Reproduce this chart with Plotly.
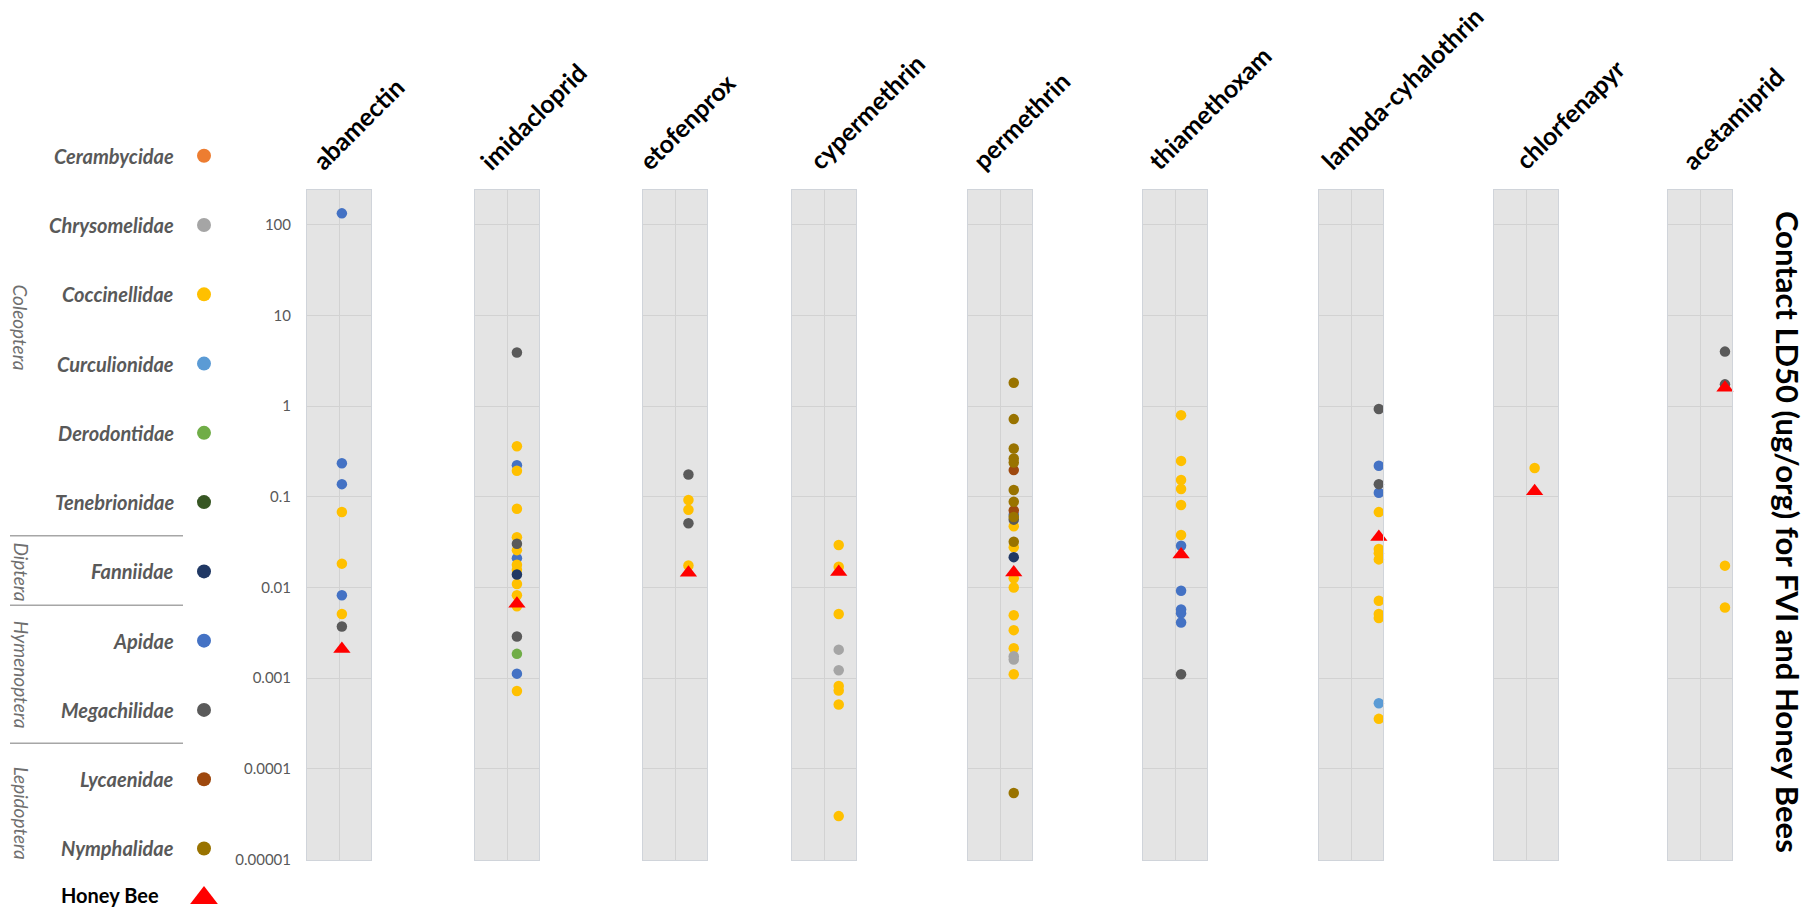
import plotly.graph_objects as go
import math

W, H = 1808, 914

# ---------------- data ----------------
pesticides = ["abamectin", "imidacloprid", "etofenprox", "cypermethrin", "permethrin",
              "thiamethoxam", "lambda-cyhalothrin", "chlorfenapyr", "acetamiprid"]

families = ["Cerambycidae", "Chrysomelidae", "Coccinellidae", "Curculionidae", "Derodontidae",
            "Tenebrionidae", "Fanniidae", "Apidae", "Megachilidae", "Lycaenidae", "Nymphalidae"]
family_colors = ["#ED7D31", "#A5A5A5", "#FFC000", "#5B9BD5", "#70AD47",
                 "#375623", "#203864", "#4472C4", "#5A5A5A", "#9E480E", "#997300"]
orders = ["Coleoptera", "Diptera", "Hymenoptera", "Lepidoptera"]

abamectin = [("Apidae", 134), ("Apidae", 0.234), ("Apidae", 0.138), ("Coccinellidae", 0.068),
             ("Coccinellidae", 0.0183), ("Apidae", 0.0082), ("Coccinellidae", 0.0051),
             ("Megachilidae", 0.0037)]
imidacloprid = [("Megachilidae", 3.9), ("Coccinellidae", 0.362), ("Apidae", 0.223),
                ("Coccinellidae", 0.194), ("Coccinellidae", 0.0738), ("Coccinellidae", 0.0358),
                ("Megachilidae", 0.0303), ("Coccinellidae", 0.0258), ("Apidae", 0.021),
                ("Coccinellidae", 0.0178), ("Coccinellidae", 0.0157), ("Fanniidae", 0.0139),
                ("Coccinellidae", 0.0109), ("Coccinellidae", 0.0082), ("Coccinellidae", 0.0062),
                ("Megachilidae", 0.00287), ("Derodontidae", 0.00185), ("Apidae", 0.00112),
                ("Coccinellidae", 0.00072)]
etofenprox = [("Megachilidae", 0.176), ("Coccinellidae", 0.092), ("Coccinellidae", 0.072),
              ("Megachilidae", 0.051), ("Coccinellidae", 0.0175)]
cypermethrin = [("Coccinellidae", 0.0294), ("Coccinellidae", 0.0169), ("Coccinellidae", 0.0051),
                ("Chrysomelidae", 0.00206), ("Chrysomelidae", 0.00122), ("Coccinellidae", 0.00082),
                ("Coccinellidae", 0.00073), ("Coccinellidae", 0.00051), ("Coccinellidae", 0.00003)]
permethrin = [("Nymphalidae", 1.81), ("Nymphalidae", 0.72), ("Nymphalidae", 0.341),
              ("Nymphalidae", 0.265), ("Nymphalidae", 0.239), ("Lycaenidae", 0.197),
              ("Nymphalidae", 0.119), ("Nymphalidae", 0.0883), ("Lycaenidae", 0.0706),
              ("Apidae", 0.0634), ("Nymphalidae", 0.0598), ("Megachilidae", 0.056),
              ("Coccinellidae", 0.0474), ("Nymphalidae", 0.0319), ("Coccinellidae", 0.0277),
              ("Fanniidae", 0.0216), ("Coccinellidae", 0.0126), ("Coccinellidae", 0.0100),
              ("Coccinellidae", 0.00493), ("Coccinellidae", 0.00338), ("Coccinellidae", 0.00213),
              ("Chrysomelidae", 0.00174), ("Chrysomelidae", 0.0016), ("Coccinellidae", 0.0011),
              ("Nymphalidae", 0.000054)]
thiamethoxam = [("Coccinellidae", 0.796), ("Coccinellidae", 0.249), ("Coccinellidae", 0.153),
                ("Coccinellidae", 0.122), ("Coccinellidae", 0.0813), ("Coccinellidae", 0.0379),
                ("Apidae", 0.0289), ("Apidae", 0.0092), ("Apidae", 0.0057), ("Apidae", 0.0052),
                ("Apidae", 0.0041), ("Megachilidae", 0.0011)]
lambda_cyhalothrin = [("Megachilidae", 0.93), ("Apidae", 0.22), ("Megachilidae", 0.138),
                      ("Apidae", 0.111), ("Coccinellidae", 0.0678), ("Coccinellidae", 0.0265),
                      ("Coccinellidae", 0.0239), ("Coccinellidae", 0.0204), ("Coccinellidae", 0.00714),
                      ("Coccinellidae", 0.0051), ("Coccinellidae", 0.0046), ("Curculionidae", 0.000527),
                      ("Coccinellidae", 0.000355)]
chlorfenapyr = [("Coccinellidae", 0.208)]
acetamiprid = [("Megachilidae", 4.0), ("Megachilidae", 1.74), ("Coccinellidae", 0.0174),
               ("Coccinellidae", 0.0060)]

honey_bee = [0.0021, 0.0066, 0.0145, 0.0148, 0.0146, 0.0231, 0.0361, 0.115, 1.6]

tick_vals = [1e-5, 1e-4, 1e-3, 1e-2, 1e-1, 1, 10, 100]
tick_text = ["0.00001", "0.0001", "0.001", "0.01", "0.1", "1", "10", "100"]

y_title = "Contact LD50 (ug/org) for FVI and Honey Bees"

panel_data = [abamectin, imidacloprid, etofenprox, cypermethrin, permethrin,
              thiamethoxam, lambda_cyhalothrin, chlorfenapyr, acetamiprid]

# ---------------- layout geometry (pixels) ----------------
panel_left = [307, 475, 643, 792, 968, 1143, 1319, 1494, 1668]
panel_w = 64
panel_top, panel_bot = 191, 867
dot_x = [1.09, 1.31, 1.42, 1.46, 1.43, 1.19, 1.87, 1.27, 1.78]   # within-panel x category position
title_start = [315, 482, 641, 811, 975, 1150, 1323, 1517, 1684]

BG = "#e4e4e4"
GRID = "#d2d2d2"
EDGE = "#d0d4da"
FONT = "Lato"

def px(x):
    return x / W

def py(y):
    return 1 - y / H

draw_order = ["Curculionidae", "Apidae", "Coccinellidae", "Chrysomelidae", "Derodontidae",
              "Tenebrionidae", "Megachilidae", "Fanniidae", "Lycaenidae", "Nymphalidae",
              "Cerambycidae"]
color_of = dict(zip(families, family_colors))

fig = go.Figure()
layout = {}
shapes = []
annotations = []

for i, name in enumerate(pesticides):
    k = "" if i == 0 else str(i + 1)
    xa, ya = "x" + k, "y" + k
    layout["xaxis" + k] = dict(
        domain=[px(panel_left[i]), px(panel_left[i] + panel_w)], range=[0, 2],
        tickvals=[1], showticklabels=False, showgrid=True, gridcolor=GRID, gridwidth=1,
        zeroline=False, showline=True, linecolor=EDGE, linewidth=1, mirror=True,
        ticks="", anchor=ya, fixedrange=True)
    layout["yaxis" + k] = dict(
        domain=[py(panel_bot), py(panel_top)], type="log", range=[-5.011, 2.39],
        tickvals=tick_vals, ticktext=tick_text, showticklabels=(i == 0),
        tickfont=dict(family=FONT, size=15, color="#595959"), ticklabelstandoff=12,
        showgrid=True, gridcolor=GRID, gridwidth=1, zeroline=False, showline=True,
        linecolor=EDGE, linewidth=1, mirror=True, ticks="", anchor=xa, fixedrange=True)
    shapes.append(dict(type="rect", xref=xa + " domain", yref=ya + " domain",
                       x0=0, x1=1, y0=0, y1=1, fillcolor=BG, line=dict(width=0),
                       layer="below"))
    pts = panel_data[i]
    for fam in draw_order:
        vals = [v for f, v in pts if f == fam]
        if not vals:
            continue
        fig.add_trace(go.Scatter(
            x=[dot_x[i]] * len(vals), y=vals, mode="markers", xaxis=xa, yaxis=ya,
            marker=dict(size=10.5, color=color_of[fam], line=dict(width=0)),
            cliponaxis=False, showlegend=False, hoverinfo="skip"))
    fig.add_trace(go.Scatter(
        x=[dot_x[i]], y=[honey_bee[i]], mode="markers", xaxis=xa, yaxis=ya,
        marker=dict(size=15, symbol="triangle-up", color="#FF0000", line=dict(width=0)),
        cliponaxis=False, showlegend=False, hoverinfo="skip"))
    annotations.append(dict(
        text=name, xref="paper", yref="paper", x=px(title_start[i] - 11), y=py(179),
        xanchor="left", yanchor="bottom", textangle=-45, showarrow=False,
        font=dict(family=FONT, size=25, color="black", weight="bold")))

# ---------------- legend (pixel overlay axes) ----------------
leg_k = str(len(pesticides) + 1)
layout["xaxis" + leg_k] = dict(domain=[0, 1], range=[0, W], visible=False, anchor="y" + leg_k,
                               fixedrange=True)
layout["yaxis" + leg_k] = dict(domain=[0, 1], range=[H, 0], visible=False, anchor="x" + leg_k,
                               fixedrange=True)

leg_y = [157 + 69.8 * j for j in range(len(families))]
fig.add_trace(go.Scatter(
    x=[204] * len(families), y=leg_y, mode="markers",
    xaxis="x" + leg_k, yaxis="y" + leg_k,
    marker=dict(size=14, color=family_colors, line=dict(width=0)),
    cliponaxis=False, showlegend=False, hoverinfo="skip"))
fig.add_trace(go.Scatter(
    x=[204], y=[905], mode="markers", xaxis="x" + leg_k, yaxis="y" + leg_k,
    marker=dict(size=24, symbol="triangle-up", color="#FF0000", line=dict(width=0)),
    cliponaxis=False, showlegend=False, hoverinfo="skip"))

for j, fam in enumerate(families):
    annotations.append(dict(
        text=fam, xref="paper", yref="paper", x=px(176), y=py(leg_y[j]),
        xanchor="right", yanchor="middle", showarrow=False,
        font=dict(family=FONT, size=20, color="#595959", weight="bold", style="italic")))
annotations.append(dict(
    text="Honey Bee", xref="paper", yref="paper", x=px(161), y=py(902),
    xanchor="right", yanchor="middle", showarrow=False,
    font=dict(family=FONT, size=20, color="black", weight="bold")))

order_y = [330, 576, 680, 819]
for o, yy in zip(orders, order_y):
    annotations.append(dict(
        text=o, xref="paper", yref="paper", x=px(21), y=py(yy),
        xanchor="center", yanchor="middle", textangle=90, showarrow=False,
        font=dict(family=FONT, size=19, color="#6f6f6f", style="italic")))

for yy in [540, 610, 749]:
    shapes.append(dict(type="line", xref="paper", yref="paper",
                       x0=px(10), x1=px(183), y0=py(yy), y1=py(yy),
                       line=dict(color="#a6a6a6", width=1.5)))

annotations.append(dict(
    text=y_title, xref="paper", yref="paper", x=px(1788), y=py(536),
    xanchor="center", yanchor="middle", textangle=90, showarrow=False,
    font=dict(family=FONT, size=31, color="black", weight="bold")))

fig.update_layout(
    width=W, height=H, margin=dict(l=0, r=0, t=0, b=0),
    paper_bgcolor="white", plot_bgcolor="rgba(0,0,0,0)",
    showlegend=False, shapes=shapes, annotations=annotations, **layout)

fig.write_html("out.html", config={"displayModeBar": False})
